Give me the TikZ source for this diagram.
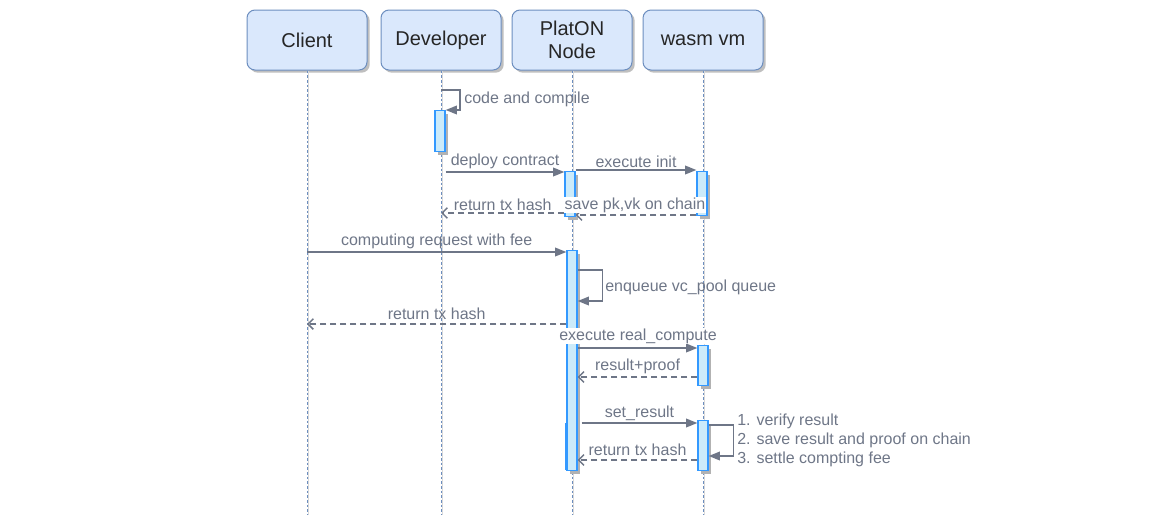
\documentclass[tikz,border=0pt]{standalone}
\usepackage{fontspec}
\setmainfont{Liberation Sans}
\usetikzlibrary{arrows.meta,shadows}
\definecolor{hdrfill}{HTML}{DAE8FC}
\definecolor{hdrdraw}{HTML}{6C8EBF}
\definecolor{barfill}{HTML}{CCEBFA}
\definecolor{bardraw}{HTML}{3399FF}
\definecolor{msgc}{HTML}{6E7687}
\definecolor{lblc}{HTML}{6E7687}
\definecolor{lifec}{HTML}{6C8EBF}
\begin{document}
\begin{tikzpicture}[x=0.75pt,y=-0.75pt,
  hdr/.style={draw=hdrdraw, fill=hdrfill, rounded corners=6pt, minimum width=90pt, minimum height=45pt,
    font=\fontsize{15}{17.5}\selectfont, text=black!85, align=center, line width=0.75pt,
    drop shadow={shadow xshift=2pt,shadow yshift=-2pt,fill=black!25,opacity=1}},
  lifeline/.style={draw=lifec, dash pattern=on 2pt off 1.5pt, line width=0.6pt},
  lifeshadow/.style={draw=black!15, line width=0.6pt},
  bar/.style={draw=bardraw, fill=barfill, minimum width=7.5pt, inner sep=0pt, line width=0.9pt, anchor=north,
    minimum height=#1*0.75pt,
    drop shadow={shadow xshift=2.2pt,shadow yshift=-2.2pt,fill=black!30,opacity=1}},
  flatbar/.style={draw=none, minimum width=7.5pt, inner sep=0pt, anchor=north, minimum height=#1*0.75pt},
  call/.style={draw=msgc, line width=1.1pt, -{Triangle[length=8.5pt,width=6.5pt]}},
  selfcall/.style={draw=msgc, line width=1.1pt, -{Triangle[length=8.5pt,width=6.5pt]}},
  ret/.style={draw=msgc, line width=1.1pt, dash pattern=on 4.5pt off 3pt,
    -{Straight Barb[length=4pt,width=8pt,line width=1.1pt]}},
  lbl/.style={text=lblc, font=\fontsize{12}{14}\selectfont, inner sep=1.5pt},
  wlbl/.style={lbl, fill=white, inner sep=0.5pt},
]
\useasboundingbox (0,0) rectangle (1160,518);

% headers
\node[hdr] (client) at (307,40) {Client};
\node[hdr] (dev) at (441,40) {Developer};
\node[hdr] (plat) at (572,40) {PlatON\\Node};
\node[hdr] (wasm) at (703,40) {wasm vm};

% lifeline end points
\coordinate (bottom) at (0,515);
\foreach \n in {client,dev,plat,wasm}{
  \draw[lifeshadow] ([xshift=1.3pt]\n.south) -- ([xshift=1.3pt]\n.south |- bottom);
  \draw[lifeline] (\n.south) -- (\n.south |- bottom);
}

% activation bars
\node[bar=41] (devbar) at (440,110) {};
\node[bar=45] (pbar1) at (570,171) {};
\node[bar=44] (wbar1) at (702,171) {};
\node[bar=220] (pbar2) at (572,250) {};
\node[flatbar=46] (pbar3) at (571,423) {};
\draw[draw=bardraw, line width=1.2pt] (pbar3.north west) -- (pbar3.south west);
\node[bar=40] (wbar2) at (703,345) {};
\node[bar=50] (wbar3) at (703,420) {};

% message levels
\coordinate (y0) at (0,90);
\coordinate (y1) at (0,172);
\coordinate (y2) at (0,170);
\coordinate (y3) at (0,215);
\coordinate (y4) at (0,213);
\coordinate (y5) at (0,252);
\coordinate (y6) at (0,270);
\coordinate (y7) at (0,301);
\coordinate (y8) at (0,324);
\coordinate (y9) at (0,348);
\coordinate (y10) at (0,377);
\coordinate (y11) at (0,423);
\coordinate (y12) at (0,425);
\coordinate (y13) at (0,456);
\coordinate (y14) at (0,460);

% code and compile (self)
\draw[selfcall] (dev.south |- y0) -| ([xshift=15pt]devbar.north) -- (devbar.north east);
\node[lbl, anchor=west] (lcode) at (462,99) {code and compile};

% deploy contract
\draw[call] (devbar.east |- y1) -- (pbar1.west |- y1) node[lbl, midway, above] (ldeploy) {deploy contract};
% execute init
\draw[call] (pbar1.east |- y2) -- (wbar1.west |- y2) node[lbl, midway, above] (linit) {execute init};
% return tx hash 1
\draw[ret] (pbar1.west |- y4) -- (dev.south |- y4) node[lbl, midway, above] (lret1) {return tx hash};
% save pk,vk on chain
\draw[ret] (wbar1.west |- y3) -- (pbar1.east |- y3);
\node[wlbl] (lsave) at (635,205) {save pk,vk on chain};

% computing request
\draw[call] (client.south |- y5) -- (pbar2.west |- y5) node[lbl, midway, above] (lcomp) {computing request with fee};
% enqueue (self)
\draw[selfcall] (pbar2.east |- y6) -- ([xshift=18.5pt]pbar2.east |- y6) |- (pbar2.east |- y7);
\node[lbl, anchor=west] (lenq) at (603,287) {enqueue vc\_pool queue};
% return tx hash 2
\draw[ret] (pbar2.west |- y8) -- (client.south |- y8) node[lbl, midway, above, yshift=1.5pt] (lret2) {return tx hash};
% execute real_compute
\draw[call] (pbar2.east |- y9) -- (wbar2.west |- y9);
\node[wlbl] (lreal) at (638,336) {execute real\_compute};
% result+proof
\draw[ret] (wbar2.west |- y10) -- (pbar2.east |- y10) node[lbl, midway, above] (lres) {result+proof};
% set_result
\draw[call] ([xshift=3pt]pbar2.east |- y11) -- (wbar3.west |- y11) node[lbl, midway, above] (lset) {set\_result};
% self on wasm
\draw[selfcall] (wbar3.east |- y12) -- ([xshift=18.5pt]wbar3.east |- y12) |- (wbar3.east |- y13);
\node[lbl, anchor=north west, align=left, font=\fontsize{12}{14.25}\selectfont] (lsteps) at (735,412)
  {1. verify result\\2. save result and proof on chain\\3. settle compting fee};
% return tx hash 3
\draw[ret] (wbar3.west |- y14) -- (pbar2.east |- y14) node[lbl, midway, above, yshift=1.5pt] (lret3) {return tx hash};
\end{tikzpicture}
\end{document}
